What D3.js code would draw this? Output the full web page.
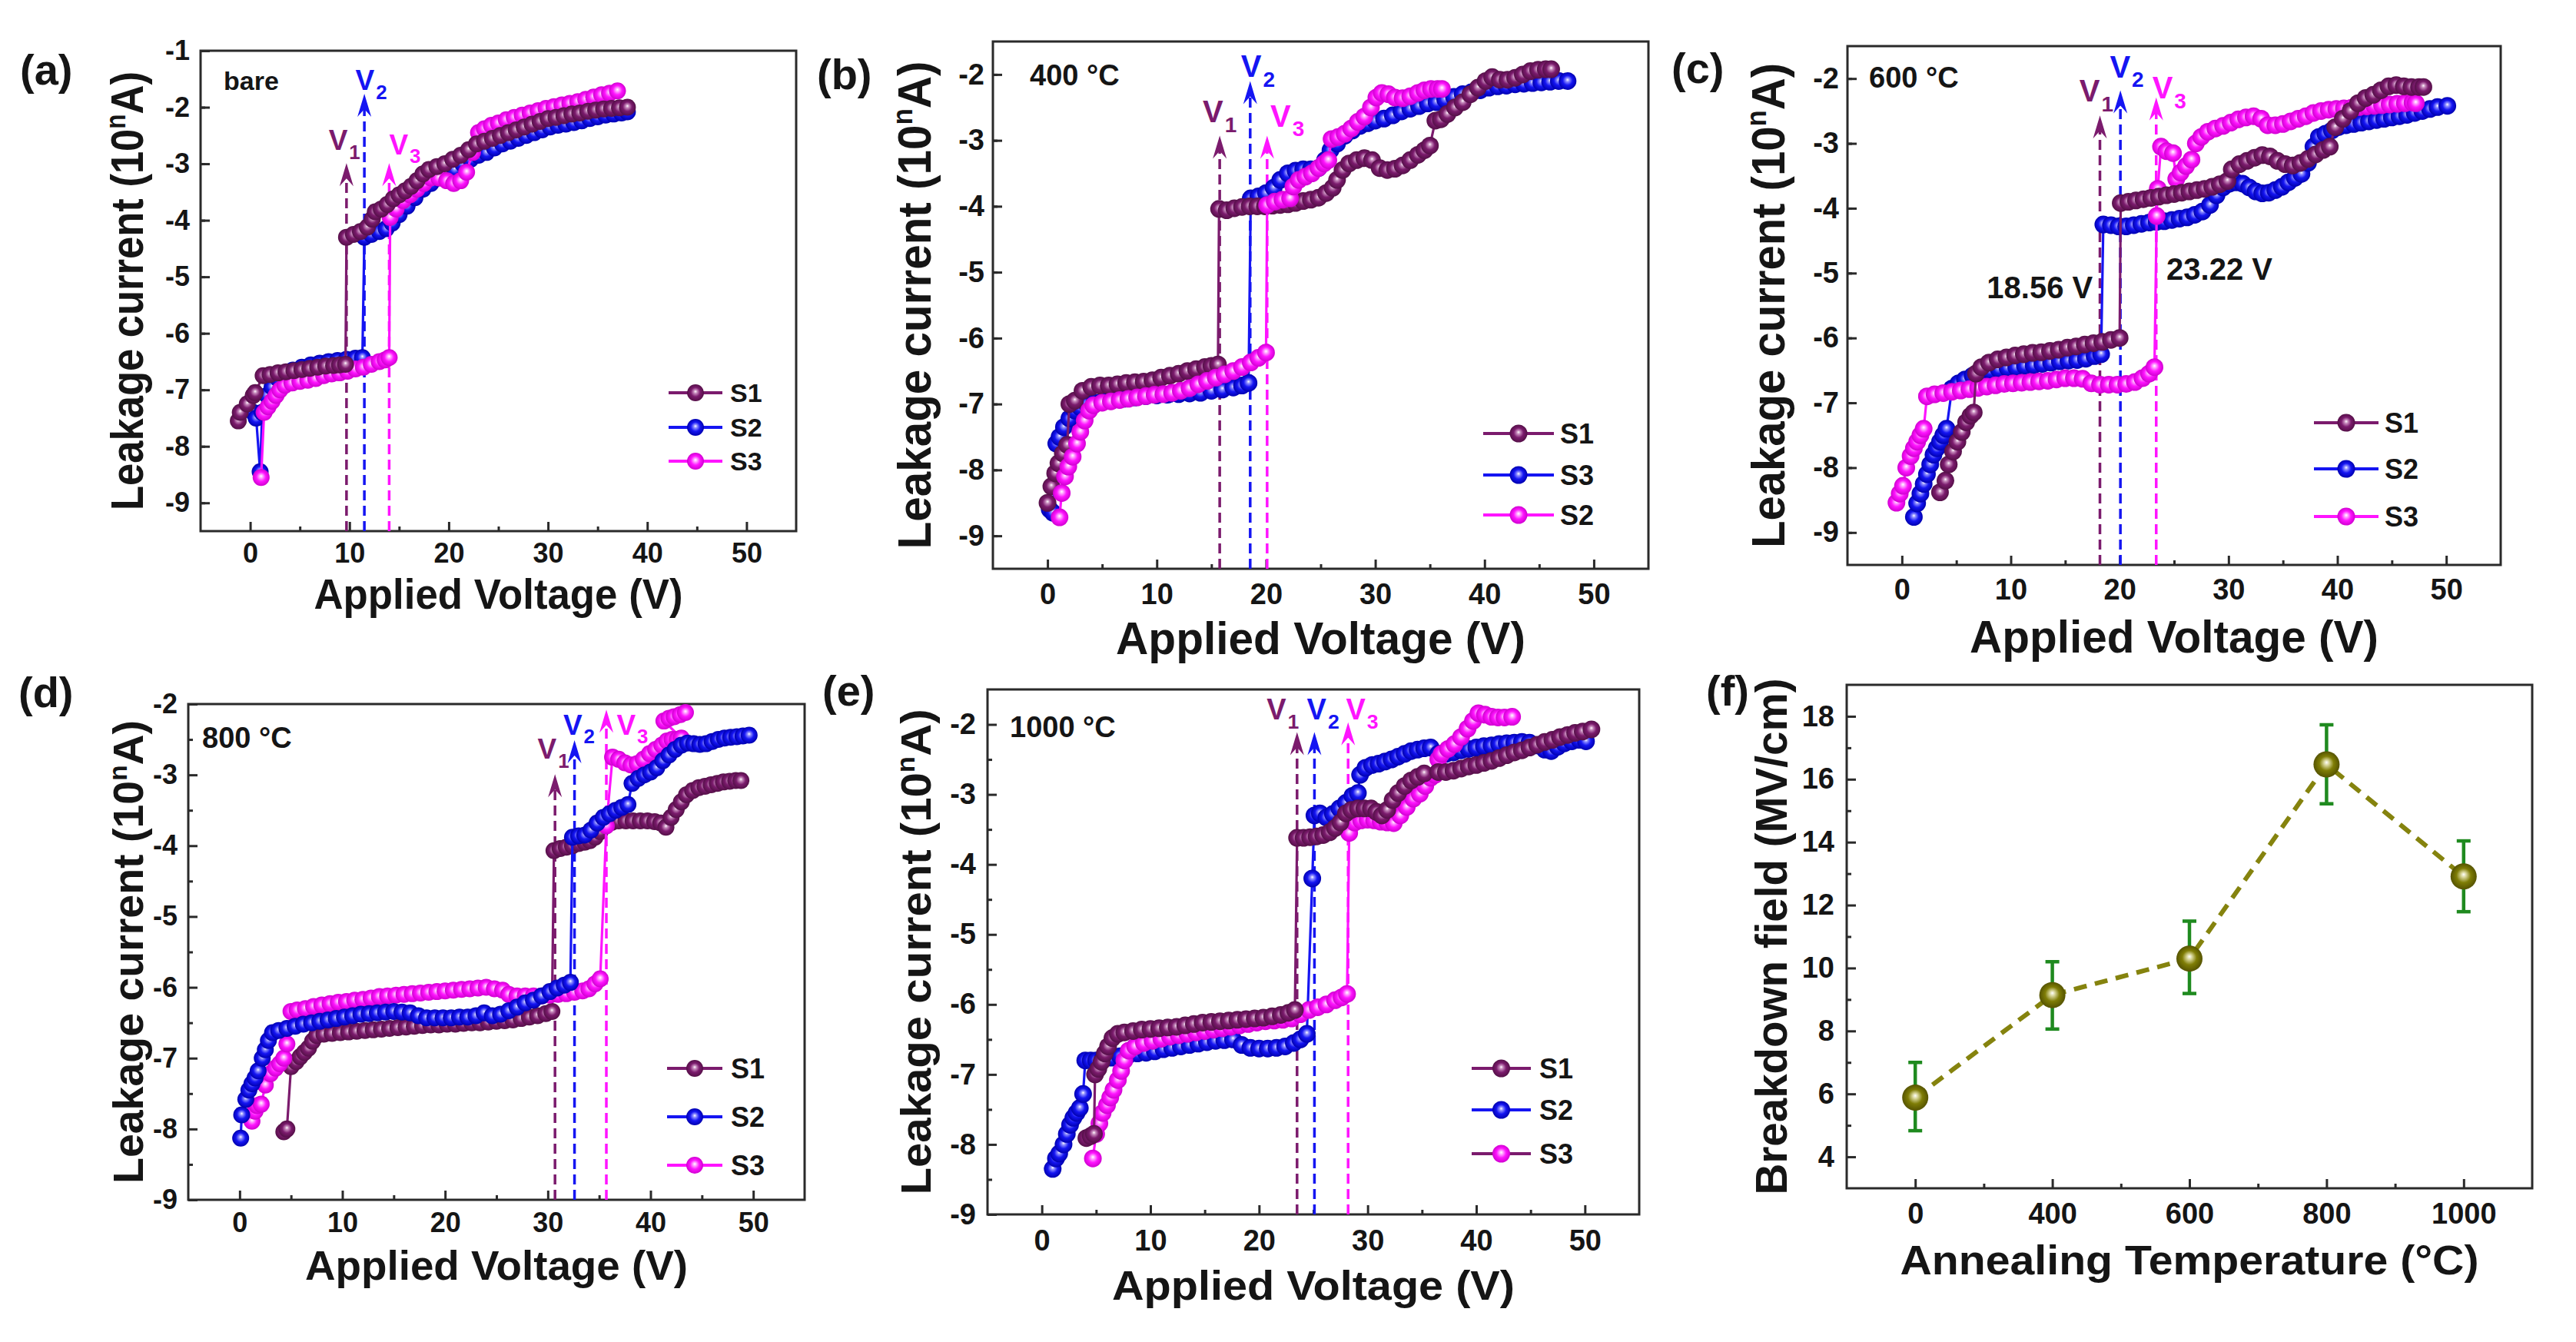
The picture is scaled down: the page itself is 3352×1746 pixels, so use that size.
<!DOCTYPE html>
<html><head><meta charset="utf-8">
<script src="https://cdn.jsdelivr.net/npm/d3@7"></script>
<style>
html,body{margin:0;padding:0;background:#fff;}
svg{display:block;}
text{font-family:"Liberation Sans",Arial,sans-serif;font-weight:bold;}
</style>
</head><body>
<svg id="chart" width="3352" height="1746"></svg>
<script>
// ---------------- DATA ----------------
// (a) bare
const a_S1=[[-1.2,-7.55],[-1.0,-7.4],[-0.3,-7.25],[0.3,-7.1],[0.5,-7.05],[1.3,-6.75],[2,-6.73],[2.8,-6.7],[3.6,-6.68],[4.4,-6.66],[5.2,-6.64],[6,-6.62],[6.8,-6.6],[7.6,-6.58],[8.4,-6.57],[9.0,-6.56],[9.6,-6.55],
[9.7,-4.3],[10.4,-4.25],[11.1,-4.2],[11.8,-4.12],[12.3,-3.98],[12.6,-3.85],[13.2,-3.8],[13.8,-3.72],[14.4,-3.62],[15,-3.55],[15.6,-3.48],[16.2,-3.4],[16.8,-3.3],[17.4,-3.18],[18,-3.1],[18.8,-3.05],[19.6,-3.0],[20.4,-2.92],[21.2,-2.85],[22,-2.75],[22.8,-2.65],[23.6,-2.6],[24.4,-2.55],[25.2,-2.5],[26,-2.45],[26.8,-2.4],[27.6,-2.35],[28.4,-2.3],[29.2,-2.25],[30,-2.2],[30.8,-2.18],[31.6,-2.15],[32.4,-2.12],[33.2,-2.1],[34,-2.07],[34.8,-2.05],[35.6,-2.03],[36.4,-2.02],[37.2,-2.01],[38,-2.0]];
const a_S2=[[0.3,-7.4],[0.6,-7.5],[1.0,-8.45],[1.2,-7.4],[1.7,-7.1],[2.2,-6.95],[2.8,-6.8],[3.5,-6.7],[4.3,-6.65],[5.2,-6.6],[6.1,-6.56],[7,-6.53],[7.9,-6.5],[8.8,-6.48],[9.7,-6.46],[10.6,-6.44],[11.3,-6.43],
[11.5,-4.3],[12.2,-4.25],[13,-4.2],[13.7,-4.15],[14.3,-4.05],[15,-3.9],[15.8,-3.75],[16.6,-3.6],[17.4,-3.45],[18.2,-3.35],[19,-3.25],[19.8,-3.15],[20.6,-3.1],[21.4,-3.0],[22.2,-2.92],[23,-2.85],[23.8,-2.8],[24.6,-2.72],[25.4,-2.65],[26.2,-2.6],[27,-2.55],[27.8,-2.5],[28.6,-2.45],[29.4,-2.4],[30.2,-2.35],[31,-2.32],[31.8,-2.3],[32.6,-2.27],[33.4,-2.24],[34.2,-2.2],[35,-2.17],[35.8,-2.14],[36.6,-2.12],[37.4,-2.1],[38,-2.08]];
const a_S3=[[1.1,-8.55],[1.4,-7.4],[1.8,-7.3],[2.2,-7.2],[2.6,-7.1],[3,-7.0],[3.5,-6.92],[4.2,-6.88],[5,-6.85],[5.8,-6.83],[6.6,-6.8],[7.4,-6.75],[8.2,-6.72],[9,-6.7],[9.8,-6.67],[10.6,-6.63],[11.4,-6.6],[12.2,-6.55],[13,-6.5],[13.6,-6.47],[14,-6.43],
[14.1,-3.95],[14.7,-3.8],[15.4,-3.65],[16.1,-3.55],[16.8,-3.45],[17.5,-3.35],[18.2,-3.25],[19,-3.25],[19.8,-3.3],[20.5,-3.35],[21.2,-3.3],[21.8,-3.15],[22.4,-2.8],[23,-2.45],[23.6,-2.38],[24.3,-2.32],[25,-2.28],[25.8,-2.22],[26.6,-2.18],[27.4,-2.14],[28.2,-2.1],[29,-2.06],[29.8,-2.02],[30.6,-1.99],[31.4,-1.96],[32.2,-1.93],[33,-1.9],[33.8,-1.86],[34.6,-1.82],[35.4,-1.78],[36.2,-1.75],[37,-1.71]];
// (b) 400 C
const b_S1=[[0,-8.5],[0.35,-8.25],[0.7,-8.05],[1.0,-7.9],[1.4,-7.75],[1.8,-7.62],[2.0,-7.0],[2.5,-6.95],[3.2,-6.8],[4.0,-6.74],[4.8,-6.72],[5.6,-6.72],[6.4,-6.7],[7.2,-6.68],[8,-6.67],[8.8,-6.66],[9.6,-6.64],[10.4,-6.6],[11.2,-6.57],[12,-6.54],[12.8,-6.5],[13.6,-6.47],[14.4,-6.44],[15,-6.42],[15.6,-6.4],
[15.7,-4.04],[16.4,-4.06],[17.1,-4.03],[17.8,-4.01],[18.5,-4.0],[19.2,-4.0],[19.9,-4.0],[20.6,-3.99],[21.3,-3.98],[22,-3.97],[22.7,-3.95],[23.4,-3.92],[24.1,-3.9],[24.8,-3.87],[25.5,-3.8],[26.1,-3.72],[26.5,-3.6],[27,-3.45],[27.6,-3.35],[28.3,-3.3],[29,-3.27],[29.7,-3.3],[30.4,-3.42],[31.1,-3.45],[31.8,-3.43],[32.5,-3.38],[33.2,-3.3],[33.9,-3.22],[34.5,-3.15],[35,-3.08],
[35.5,-2.7],[36,-2.68],[36.6,-2.6],[37.3,-2.5],[38,-2.42],[38.7,-2.3],[39.4,-2.2],[40.1,-2.1],[40.7,-2.04],[41.4,-2.08],[42.1,-2.08],[42.8,-2.05],[43.5,-2.0],[44.2,-1.95],[44.9,-1.93],[45.6,-1.92],[46.1,-1.92]];
const b_S3=[[0.2,-8.6],[0.5,-8.65],[0.8,-7.6],[1.1,-7.5],[1.5,-7.35],[2,-7.22],[2.5,-7.1],[3,-7.05],[3.6,-7.0],[4.3,-6.98],[5,-6.96],[6,-6.94],[7,-6.92],[8,-6.9],[9,-6.88],[10,-6.87],[11,-6.86],[12,-6.85],[13,-6.84],[14,-6.83],[15,-6.8],[16,-6.78],[17,-6.75],[17.8,-6.72],[18.4,-6.68],
[18.6,-3.88],[19.3,-3.85],[20,-3.8],[20.7,-3.72],[21.3,-3.6],[22,-3.5],[22.7,-3.46],[23.4,-3.44],[24.1,-3.44],[24.8,-3.42],[25.4,-3.3],[25.9,-3.15],[26.5,-3.05],[27.2,-2.93],[27.9,-2.85],[28.6,-2.78],[29.3,-2.74],[30,-2.7],[30.8,-2.67],[31.6,-2.62],[32.4,-2.56],[33.2,-2.52],[34,-2.48],[34.8,-2.44],[35.6,-2.42],[36.4,-2.38],[37.2,-2.34],[38,-2.3],[38.8,-2.27],[39.6,-2.24],[40.4,-2.2],[41.2,-2.18],[42,-2.17],[42.8,-2.15],[43.6,-2.14],[44.4,-2.13],[45.2,-2.12],[46,-2.11],[46.8,-2.1],[47.6,-2.1]];
const b_S2=[[1.1,-8.72],[1.3,-8.35],[1.6,-8.1],[1.9,-7.95],[2.3,-7.8],[2.7,-7.6],[3.0,-7.42],[3.4,-7.25],[3.8,-7.1],[4.2,-7.02],[5,-6.98],[5.8,-6.96],[6.6,-6.94],[7.4,-6.92],[8.2,-6.9],[9,-6.88],[9.8,-6.86],[10.6,-6.85],[11.4,-6.83],[12.2,-6.8],[13,-6.76],[13.8,-6.7],[14.6,-6.65],[15.4,-6.6],[16.2,-6.55],[17,-6.5],[17.8,-6.44],[18.6,-6.37],[19.3,-6.3],[20,-6.22],
[20.1,-3.98],[20.8,-3.93],[21.5,-3.9],[22.2,-3.88],[22.5,-3.7],[23,-3.6],[23.6,-3.55],[24.2,-3.5],[24.8,-3.42],[25.3,-3.35],[25.7,-3.3],[26.0,-2.98],[26.6,-2.95],[27.2,-2.9],[27.8,-2.82],[28.4,-2.72],[29,-2.64],[29.6,-2.5],[30.1,-2.35],[30.6,-2.28],[31.2,-2.3],[31.8,-2.35],[32.5,-2.36],[33.2,-2.33],[33.9,-2.28],[34.5,-2.24],[35.1,-2.22],[35.7,-2.22],[36.1,-2.22]];
// (c) 600 C
const c_S1=[[3.5,-8.38],[4.0,-8.2],[4.3,-7.95],[4.7,-7.75],[5.1,-7.6],[5.5,-7.45],[5.9,-7.3],[6.3,-7.2],[6.6,-7.15],[6.8,-6.55],[7.3,-6.45],[8,-6.38],[8.8,-6.33],[9.6,-6.3],[10.4,-6.27],[11.2,-6.25],[12,-6.23],[12.8,-6.22],[13.6,-6.2],[14.4,-6.18],[15.2,-6.15],[16,-6.13],[16.8,-6.1],[17.6,-6.08],[18.4,-6.06],[19.2,-6.03],[20,-6.0],
[20.1,-3.92],[20.8,-3.9],[21.5,-3.88],[22.2,-3.86],[22.9,-3.84],[23.6,-3.82],[24.3,-3.8],[25,-3.78],[25.7,-3.76],[26.4,-3.74],[27.1,-3.72],[27.8,-3.7],[28.5,-3.67],[29.2,-3.63],[29.9,-3.58],[30.3,-3.4],[31,-3.32],[31.7,-3.27],[32.4,-3.22],[33.1,-3.18],[33.8,-3.2],[34.5,-3.27],[35.2,-3.32],[35.9,-3.34],[36.6,-3.3],[37.3,-3.24],[38,-3.17],[38.7,-3.1],[39.3,-3.05],[39.8,-2.75],[40.5,-2.62],[41.2,-2.5],[41.9,-2.38],[42.6,-2.3],[43.3,-2.25],[44,-2.18],[44.7,-2.12],[45.4,-2.1],[46.1,-2.12],[46.8,-2.13],[47.5,-2.13],[47.9,-2.13]];
const c_S2=[[1.1,-8.76],[1.4,-8.55],[1.7,-8.4],[2.0,-8.25],[2.3,-8.1],[2.6,-7.95],[2.9,-7.8],[3.2,-7.7],[3.5,-7.6],[3.8,-7.5],[4.1,-7.4],[4.6,-6.78],[5.2,-6.7],[5.8,-6.64],[6.5,-6.58],[7.3,-6.53],[8.1,-6.5],[8.9,-6.48],[9.7,-6.46],[10.5,-6.45],[11.3,-6.43],[12.1,-6.42],[12.9,-6.4],[13.7,-6.38],[14.5,-6.36],[15.3,-6.35],[16.1,-6.34],[16.9,-6.32],[17.7,-6.28],[18.3,-6.25],
[18.5,-4.25],[19.2,-4.26],[19.9,-4.28],[20.6,-4.28],[21.3,-4.26],[22,-4.24],[22.7,-4.22],[23.4,-4.21],[24.1,-4.2],[24.8,-4.18],[25.5,-4.16],[26.2,-4.14],[26.9,-4.1],[27.6,-4.05],[28.3,-3.95],[28.9,-3.8],[29.5,-3.68],[30.1,-3.62],[30.7,-3.6],[31.3,-3.62],[31.9,-3.68],[32.5,-3.74],[33.1,-3.77],[33.7,-3.76],[34.3,-3.72],[34.9,-3.67],[35.5,-3.6],[36.1,-3.53],[36.7,-3.47],[37.3,-3.3],[37.8,-3.05],[38.3,-2.9],[38.9,-2.85],[39.5,-2.8],[40.1,-2.75],[40.8,-2.72],[41.5,-2.7],[42.2,-2.68],[42.9,-2.66],[43.6,-2.64],[44.3,-2.62],[45,-2.6],[45.7,-2.58],[46.4,-2.56],[47.1,-2.53],[47.8,-2.5],[48.5,-2.47],[49.2,-2.44],[50.1,-2.42]];
const c_S3=[[-0.5,-8.54],[-0.2,-8.4],[0.1,-8.28],[0.4,-8.0],[0.8,-7.82],[1.1,-7.7],[1.4,-7.6],[1.7,-7.5],[2.0,-7.4],[2.3,-6.9],[3,-6.87],[3.8,-6.85],[4.6,-6.83],[5.4,-6.81],[6.2,-6.79],[7,-6.77],[7.8,-6.75],[8.6,-6.73],[9.4,-6.71],[10.2,-6.7],[11,-6.69],[11.8,-6.68],[12.6,-6.67],[13.4,-6.66],[14.2,-6.64],[15,-6.62],[15.8,-6.62],[16.6,-6.63],[17.4,-6.7],[18.2,-6.72],[19,-6.72],[19.8,-6.72],[20.6,-6.71],[21.4,-6.68],[22.1,-6.62],[22.7,-6.55],[23.2,-6.45],
[23.4,-4.12],[23.5,-3.7],[23.8,-3.05],[24.3,-3.12],[24.9,-3.15],[25.2,-3.55],[25.6,-3.45],[26.1,-3.35],[26.6,-3.25],[27,-3.0],[27.5,-2.9],[28.1,-2.82],[28.8,-2.77],[29.5,-2.73],[30.2,-2.68],[30.9,-2.63],[31.6,-2.6],[32.3,-2.58],[33,-2.62],[33.6,-2.72],[34.3,-2.72],[35,-2.7],[35.7,-2.66],[36.4,-2.62],[37.1,-2.58],[37.8,-2.53],[38.5,-2.5],[39.2,-2.48],[39.9,-2.47],[40.6,-2.46],[41.3,-2.45],[42,-2.44],[42.7,-2.43],[43.4,-2.42],[44.1,-2.41],[44.8,-2.4],[45.5,-2.39],[46.2,-2.38],[46.9,-2.37],[47.2,-2.38]];
// (d) 800 C
const d_S1=[[4.3,-8.04],[4.6,-8.0],[5.0,-7.12],[5.5,-7.05],[5.9,-6.98],[6.3,-6.92],[6.7,-6.86],[7.1,-6.76],[7.5,-6.68],[8.2,-6.66],[9,-6.65],[9.8,-6.64],[10.6,-6.63],[11.4,-6.62],[12.2,-6.61],[13,-6.6],[13.8,-6.59],[14.6,-6.58],[15.4,-6.57],[16.2,-6.56],[17,-6.55],[17.8,-6.54],[18.6,-6.53],[19.4,-6.53],[20.2,-6.52],[21,-6.52],[21.8,-6.51],[22.6,-6.5],[23.4,-6.5],[24.2,-6.49],[25,-6.48],[25.8,-6.47],[26.6,-6.46],[27.4,-6.44],[28.2,-6.42],[29,-6.4],[29.8,-6.37],[30.4,-6.34],
[30.6,-4.07],[31.2,-4.04],[31.8,-4.02],[32.4,-4.0],[33,-3.97],[33.6,-3.95],[34.1,-3.93],[34.6,-3.88],[35.1,-3.8],[35.6,-3.71],[36.2,-3.67],[36.9,-3.65],[37.6,-3.65],[38.3,-3.65],[39,-3.65],[39.7,-3.65],[40.4,-3.66],[41,-3.68],[41.5,-3.74],[42,-3.6],[42.5,-3.49],[43,-3.38],[43.5,-3.28],[44.1,-3.22],[44.7,-3.18],[45.3,-3.16],[45.9,-3.14],[46.5,-3.12],[47.1,-3.1],[47.7,-3.09],[48.3,-3.08],[48.8,-3.08]];
const d_S2=[[0.1,-8.13],[0.2,-7.8],[0.6,-7.58],[0.9,-7.45],[1.2,-7.36],[1.5,-7.28],[1.8,-7.18],[2.2,-7.0],[2.5,-6.88],[2.8,-6.75],[3.2,-6.64],[3.8,-6.61],[4.6,-6.58],[5.4,-6.55],[6.2,-6.52],[7,-6.5],[7.8,-6.48],[8.6,-6.46],[9.4,-6.44],[10.2,-6.42],[11,-6.4],[11.8,-6.38],[12.6,-6.37],[13.4,-6.36],[14.2,-6.35],[15,-6.34],[15.8,-6.35],[16.6,-6.36],[17.4,-6.4],[18.2,-6.43],[19,-6.43],[19.8,-6.43],[20.6,-6.43],[21.4,-6.42],[22.2,-6.42],[23,-6.4],[23.8,-6.36],[24.6,-6.4],[25.4,-6.38],[26.2,-6.33],[27,-6.28],[27.8,-6.22],[28.6,-6.18],[29.4,-6.12],[30.2,-6.06],[30.9,-6.01],[31.6,-5.97],[32.2,-5.93],
[32.4,-3.88],[33,-3.86],[33.6,-3.85],[34.2,-3.78],[34.8,-3.68],[35.4,-3.6],[36,-3.55],[36.6,-3.5],[37.2,-3.46],[37.8,-3.42],[38.2,-3.12],[38.8,-3.05],[39.4,-3.0],[40,-2.96],[40.6,-2.9],[41.2,-2.8],[41.8,-2.72],[42.4,-2.64],[43,-2.58],[43.6,-2.55],[44.2,-2.56],[44.8,-2.57],[45.4,-2.56],[46,-2.53],[46.6,-2.5],[47.2,-2.48],[47.8,-2.47],[48.4,-2.46],[49,-2.45],[49.6,-2.44]];
const d_S3=[[1.2,-7.89],[1.5,-7.75],[1.7,-7.67],[2.1,-7.65],[2.5,-7.38],[3.0,-7.22],[3.5,-7.14],[3.9,-7.08],[4.3,-7.0],[4.6,-6.8],[5.0,-6.34],[5.6,-6.32],[6.4,-6.3],[7.2,-6.27],[8,-6.25],[8.8,-6.23],[9.6,-6.21],[10.4,-6.2],[11.2,-6.18],[12,-6.17],[12.8,-6.15],[13.6,-6.13],[14.4,-6.12],[15.2,-6.11],[16,-6.1],[16.8,-6.09],[17.6,-6.08],[18.4,-6.07],[19.2,-6.06],[20,-6.05],[20.8,-6.04],[21.6,-6.03],[22.4,-6.02],[23.2,-6.01],[24,-6.0],[24.8,-6.02],[25.6,-6.04],[26.2,-6.1],[27,-6.12],[27.8,-6.12],[28.6,-6.12],[29.4,-6.12],[30.2,-6.11],[31,-6.1],[31.8,-6.09],[32.6,-6.07],[33.4,-6.05],[34,-6.02],[34.6,-5.95],[35.1,-5.88],
[35.7,-3.72],[36.3,-2.75],[36.9,-2.78],[37.5,-2.83],[38.1,-2.86],[38.7,-2.84],[39.3,-2.78],[39.9,-2.7],[40.5,-2.64],[41.1,-2.58],[41.6,-2.52],[42.1,-2.5],[42.6,-2.5],[43,-2.48],
[41.3,-2.24],[41.8,-2.2],[42.3,-2.18],[42.9,-2.15],[43.4,-2.12]];
// (e) 1000 C
const e_S1=[[4.1,-7.91],[4.5,-7.88],[4.8,-7.85],[4.9,-7.0],[5.2,-6.92],[5.5,-6.82],[5.8,-6.7],[6.1,-6.6],[6.5,-6.48],[7,-6.42],[7.6,-6.4],[8.4,-6.38],[9.2,-6.36],[10,-6.35],[10.8,-6.34],[11.6,-6.33],[12.4,-6.32],[13.2,-6.3],[14,-6.28],[14.8,-6.26],[15.6,-6.25],[16.4,-6.24],[17.2,-6.23],[18,-6.22],[18.8,-6.21],[19.6,-6.2],[20.4,-6.19],[21.2,-6.17],[22,-6.15],[22.7,-6.12],[23.3,-6.08],
[23.5,-3.62],[24.1,-3.62],[24.7,-3.61],[25.3,-3.6],[25.9,-3.58],[26.5,-3.54],[27,-3.48],[27.5,-3.4],[28,-3.27],[28.5,-3.22],[29.1,-3.2],[29.7,-3.2],[30.3,-3.2],[30.8,-3.25],[31.3,-3.3],[31.8,-3.22],[32.3,-3.08],[32.8,-2.98],[33.4,-2.88],[34,-2.8],[34.6,-2.75],[35.2,-2.7],[36.5,-2.68],[37.2,-2.68],[37.9,-2.66],[38.6,-2.63],[39.3,-2.6],[40,-2.58],[40.7,-2.55],[41.4,-2.52],[42.1,-2.48],[42.8,-2.44],[43.5,-2.4],[44.2,-2.37],[44.9,-2.33],[45.6,-2.29],[46.3,-2.25],[47,-2.22],[47.7,-2.18],[48.4,-2.15],[49.1,-2.12],[49.8,-2.1],[50.6,-2.07]];
const e_S2=[[1.0,-8.35],[1.3,-8.2],[1.6,-8.13],[2.0,-8.0],[2.3,-7.85],[2.6,-7.72],[2.9,-7.62],[3.2,-7.55],[3.5,-7.48],[3.8,-7.28],[4.0,-6.8],[4.5,-6.8],[5,-6.8],[5.6,-6.78],[6.4,-6.76],[7.2,-6.74],[8,-6.72],[8.8,-6.7],[9.6,-6.69],[10.4,-6.67],[11.2,-6.64],[12,-6.62],[12.8,-6.6],[13.6,-6.58],[14.4,-6.56],[15.2,-6.54],[16,-6.52],[16.8,-6.51],[17.6,-6.5],[18.4,-6.58],[19.2,-6.62],[20,-6.63],[20.8,-6.63],[21.6,-6.62],[22.4,-6.6],[23.2,-6.55],[23.8,-6.5],[24.4,-6.42],
[24.9,-4.2],[25.1,-3.3],[25.6,-3.27],[26.2,-3.33],[26.8,-3.28],[27.4,-3.2],[28,-3.12],[28.6,-3.02],[29.1,-2.98],[29.3,-2.72],[29.8,-2.62],[30.4,-2.58],[31,-2.56],[31.6,-2.53],[32.2,-2.5],[32.8,-2.46],[33.4,-2.42],[34,-2.38],[34.6,-2.36],[35.2,-2.34],[35.8,-2.33],[36.5,-2.42],[37.2,-2.42],[37.9,-2.4],[38.6,-2.37],[39.3,-2.35],[40,-2.33],[40.7,-2.31],[41.4,-2.3],[42.1,-2.28],[42.8,-2.27],[43.5,-2.26],[44.2,-2.25],[44.9,-2.26],[45.6,-2.3],[46.3,-2.36],[46.9,-2.38],[47.5,-2.32],[48.1,-2.27],[48.8,-2.24],[49.5,-2.22],[50.1,-2.24]];
const e_S3=[[4.7,-8.2],[5.0,-7.85],[5.3,-7.7],[5.6,-7.55],[6,-7.44],[6.3,-7.33],[6.6,-7.22],[7,-7.08],[7.3,-6.95],[7.6,-6.8],[8,-6.66],[8.6,-6.6],[9.4,-6.55],[10.2,-6.52],[11,-6.49],[11.8,-6.46],[12.6,-6.44],[13.4,-6.42],[14.2,-6.4],[15,-6.38],[15.8,-6.36],[16.6,-6.34],[17.4,-6.32],[18.2,-6.3],[19,-6.28],[19.8,-6.26],[20.6,-6.24],[21.4,-6.23],[22.2,-6.22],[23,-6.2],[23.8,-6.14],[24.6,-6.08],[25.4,-6.04],[26.2,-6.0],[27,-5.94],[27.6,-5.9],[28.1,-5.85],
[28.3,-3.55],[28.8,-3.4],[29.4,-3.37],[30,-3.36],[30.6,-3.37],[31.2,-3.39],[31.8,-3.4],[32.4,-3.41],[33,-3.3],[33.6,-3.18],[34.2,-3.06],[34.8,-2.99],[35.3,-2.88],[35.8,-2.76],[36.2,-2.72],[36.5,-2.5],[36.8,-2.42],[37.4,-2.35],[38,-2.28],[38.6,-2.18],[39.2,-2.06],[39.7,-1.95],[40.2,-1.84],[40.8,-1.86],[41.4,-1.89],[42,-1.9],[42.6,-1.9],[43.3,-1.89]];
// (f) breakdown field
const f_temps=["0","400","600","800","1000"];
const f_field=[5.88,9.14,10.3,16.47,12.91];
const f_errLow=[4.83,8.06,9.19,15.22,11.79];
const f_errHigh=[7.0,10.2,11.49,17.73,14.04];
// tick labels
const voltTicks=[0,10,20,30,40,50];
const leakTicksA=[-9,-8,-7,-6,-5,-4,-3,-2,-1];
const leakTicks=[-9,-8,-7,-6,-5,-4,-3,-2];
const fieldTicks=[4,6,8,10,12,14,16,18];
// breakdown voltage markers
const vA=[9.7,11.5,14.0], vB=[15.76,18.55,20.1], vC=[18.19,20.07,23.36], vD=[30.7,32.6,35.7], vE=[23.5,25.1,28.2];

// ---------------- STYLE / LAYOUT ----------------
const W=3352,H=1746;
const svg=d3.select('#chart');
svg.append('rect').attr('width',W).attr('height',H).attr('fill','#fff');
const defs=svg.append('defs');
const palette={
  purple:{base:'#7b1b6d',light:'#c88cbe',dark:'#550f48'},
  blue:{base:'#1515f2',light:'#9090ff',dark:'#0000b0'},
  magenta:{base:'#ff14ff',light:'#ffa8ff',dark:'#d000d0'},
  olive:{base:'#7f7d06',light:'#d8d69a',dark:'#555300'}
};
Object.entries(palette).forEach(([k,c])=>{
  const g=defs.append('radialGradient').attr('id','ball-'+k)
    .attr('cx','50%').attr('cy','50%').attr('r','50%').attr('fx','50%').attr('fy','42%');
  g.append('stop').attr('offset','0%').attr('stop-color','#ffffff');
  g.append('stop').attr('offset','20%').attr('stop-color',c.light);
  g.append('stop').attr('offset','55%').attr('stop-color',c.base);
  g.append('stop').attr('offset','100%').attr('stop-color',c.dark);
});

const panels=[
 {id:'(a)', lab:[26,110], note:['bare',291,117,34], frame:[261,66,1036,691], yd:[-9.5,-1], yt:leakTicksA,
  fs:36, xPad:41, yGap:14, r:11, xT:[792,56,480], yT:[186,60,571],
  series:[{d:a_S2,c:'blue'},{d:a_S3,c:'magenta'},{d:a_S1,c:'purple'}],
  legend:{x1:870,x2:940,tx:950,fs:34,rows:[[511,'S1','purple','purple'],[556,'S2','blue','blue'],[600,'S3','magenta','magenta']]},
  vs:vA, arrows:[{tip:-2.99,lx:7.9,ly:-2.76},{tip:-1.76,lx:10.6,ly:-1.69},{tip:-2.99,lx:14.0,ly:-2.83}], vfs:37},
 {id:'(b)', lab:[1063,116], note:['400 °C',1340,111,38], frame:[1292,54,2145,740], yd:[-9.5,-1.5], yt:leakTicks,
  fs:38, xPad:46, yGap:11, r:11.5, xT:[851,59,533], yT:[1211,62,635],
  series:[{d:b_S3,c:'blue'},{d:b_S1,c:'purple'},{d:b_S2,c:'magenta'}],
  legend:{x1:1930,x2:2022,tx:2030,fs:36,rows:[[564,'S1','purple','purple'],[618,'S3','blue','blue'],[670,'S2','magenta','magenta']]},
  vs:vB, arrows:[{tip:-2.93,lx:14.2,ly:-2.73},{tip:-2.1,lx:17.7,ly:-2.04},{tip:-2.93,lx:20.4,ly:-2.79}], vfs:40},
 {id:'(c)', lab:[2175,108], note:['600 °C',2432,114,38], frame:[2404,60,3254,735], yd:[-9.5,-1.5], yt:leakTicks,
  fs:38, xPad:45, yGap:11, r:11.5, xT:[849,59,532], yT:[2322,62,631],
  series:[{d:c_S2,c:'blue'},{d:c_S3,c:'magenta'},{d:c_S1,c:'purple'}],
  legend:{x1:3011,x2:3095,tx:3103,fs:36,rows:[[550,'S1','purple','purple'],[610,'S2','blue','blue'],[672,'S3','magenta','magenta']]},
  vs:vC, arrows:[{tip:-2.57,lx:16.3,ly:-2.35},{tip:-2.18,lx:19.1,ly:-1.98},{tip:-2.29,lx:23.0,ly:-2.31}], vfs:40,
  extra:[['18.56 V',7.8,-5.39],['23.22 V',24.3,-5.1]]},
 {id:'(d)', lab:[24,920], note:['800 °C',263,973,38], frame:[245,916,1047,1561], yd:[-9,-2], yt:leakTicks,
  fs:36, xPad:42, yGap:14, r:11, xT:[1665,53,498], yT:[186,56,603],
  series:[{d:d_S1,c:'purple'},{d:d_S3,c:'magenta'},{d:d_S2,c:'blue'}],
  legend:{x1:868,x2:940,tx:951,fs:36,rows:[[1390,'S1','purple','purple'],[1453,'S2','blue','blue'],[1516,'S3','magenta','magenta']]},
  vs:vD, arrows:[{tip:-2.99,lx:29.0,ly:-2.77},{tip:-2.51,lx:31.5,ly:-2.43},{tip:-2.08,lx:36.7,ly:-2.43}], vfs:37},
 {id:'(e)', lab:[1070,918], note:['1000 °C',1314,959,38], frame:[1285,897,2133,1580], yd:[-9,-1.5], yt:leakTicks,
  fs:38, xPad:47, yGap:15, r:11.5, xT:[1691,54,524], yT:[1211,56,632],
  series:[{d:e_S2,c:'blue'},{d:e_S3,c:'magenta'},{d:e_S1,c:'purple'}],
  legend:{x1:1915,x2:1992,tx:2003,fs:36,rows:[[1390,'S1','purple','purple'],[1444,'S2','blue','blue'],[1501,'S3','purple','magenta']]},
  vs:vE, arrows:[{tip:-2.11,lx:20.7,ly:-1.93},{tip:-2.11,lx:24.4,ly:-1.93},{tip:-1.97,lx:28.0,ly:-1.93}], vfs:38}
];
const vColors=['purple','blue','magenta'];
const ink='#151515';

function styleAxis(g,fs){
  g.attr('font-family',null).attr('font-size',fs);
  g.select('.domain').remove();
  g.selectAll('line').attr('stroke','#2a2a2a').attr('stroke-width',3);
  g.selectAll('text').attr('fill',ink);
}

function drawFrameAxes(P,x,y,xVals,xMinor,xFmt,yVals,yMinor){
  const [L,T,R,B]=P.frame;
  const g=svg.append('g');
  const gx=g.append('g').attr('transform',`translate(0,${B})`)
    .call(d3.axisBottom(x).tickValues(xVals).tickSize(-12).tickPadding(P.xPad-0.71*P.fs).tickFormat(xFmt));
  styleAxis(gx,P.fs);
  const gxm=g.append('g').attr('transform',`translate(0,${B})`)
    .call(d3.axisBottom(x).tickValues(xMinor).tickSize(-6).tickFormat(''));
  styleAxis(gxm,P.fs);
  const gy=g.append('g').attr('transform',`translate(${L},0)`)
    .call(d3.axisLeft(y).tickValues(yVals).tickSize(-12).tickPadding(P.yGap).tickFormat(d=>String(d)));
  styleAxis(gy,P.fs);
  const gym=g.append('g').attr('transform',`translate(${L},0)`)
    .call(d3.axisLeft(y).tickValues(yMinor).tickSize(-6).tickFormat(''));
  styleAxis(gym,P.fs);
  g.append('rect').attr('x',L).attr('y',T).attr('width',R-L).attr('height',B-T)
    .attr('fill','none').attr('stroke','#2a2a2a').attr('stroke-width',3);
}

function ball(sel,cx,cy,r,color){
  sel.append('circle').attr('cx',cx).attr('cy',cy).attr('r',r).attr('fill',`url(#ball-${color})`);
}

panels.forEach(P=>{
  const [L,T,R,B]=P.frame;
  const x=d3.scaleLinear().domain([-5,55]).range([L,R]);
  const y=d3.scaleLinear().domain(P.yd).range([B,T]);
  const yMinor=d3.range(Math.ceil(P.yd[0]*2)/2+0.5,P.yd[1],1).filter(v=>v>P.yd[0]&&v<P.yd[1]);
  drawFrameAxes(P,x,y,voltTicks,[5,15,25,35,45],d=>String(d),P.yt,yMinor);

  // breakdown arrows (dashed lines)
  const ga=svg.append('g');
  P.vs.forEach((v,i)=>{
    const A=P.arrows[i], col=palette[vColors[i]].base;
    const xv=x(v), yt=y(A.tip);
    ga.append('line').attr('x1',xv).attr('x2',xv).attr('y1',B).attr('y2',yt+18)
      .attr('stroke',col).attr('stroke-width',3.5).attr('stroke-dasharray','13,7');
  });

  // series
  const line=d3.line().x(d=>x(d[0])).y(d=>y(d[1]));
  P.series.forEach(S=>{
    const gs=svg.append('g');
    gs.append('path').attr('d',line(S.d)).attr('fill','none')
      .attr('stroke',palette[S.c].base).attr('stroke-width',3.2).attr('stroke-linejoin','round');
    gs.selectAll('circle').data(S.d).join('circle')
      .attr('cx',d=>x(d[0])).attr('cy',d=>y(d[1])).attr('r',P.r).attr('fill',`url(#ball-${S.c})`);
  });

  // arrowheads + V labels
  P.vs.forEach((v,i)=>{
    const A=P.arrows[i], col=palette[vColors[i]].base;
    const xv=x(v), yt=y(A.tip);
    svg.append('path').attr('d',`M${xv},${yt} L${xv+9},${yt+30} L${xv},${yt+20} L${xv-9},${yt+30} Z`)
      .attr('fill',col);
    const t=svg.append('text').attr('x',x(A.lx)).attr('y',y(A.ly)).attr('fill',col).attr('font-size',P.vfs).text('V');
    t.append('tspan').attr('font-size',P.vfs*0.7).attr('dx',2).attr('dy',P.vfs*0.32).text(String(i+1));
  });

  // legend
  const Lg=P.legend;
  Lg.rows.forEach(([ry,name,lc,mc])=>{
    svg.append('line').attr('x1',Lg.x1).attr('x2',Lg.x2).attr('y1',ry).attr('y2',ry)
      .attr('stroke',palette[lc].base).attr('stroke-width',4);
    ball(svg,(Lg.x1+Lg.x2)/2,ry,P.r,mc);
    svg.append('text').attr('x',Lg.tx).attr('y',ry).attr('dy','0.36em').attr('font-size',Lg.fs).attr('fill',ink).text(name);
  });

  // extra annotations
  (P.extra||[]).forEach(([txt,vx,vy])=>{
    svg.append('text').attr('x',x(vx)).attr('y',y(vy)).attr('font-size',40).attr('fill',ink).text(txt);
  });

  // note and panel label
  svg.append('text').attr('x',P.note[1]).attr('y',P.note[2]).attr('font-size',P.note[3]).attr('fill',ink).text(P.note[0]);
  svg.append('text').attr('x',P.lab[0]).attr('y',P.lab[1]).attr('font-size',56).attr('fill',ink).text(P.id);

  // titles
  svg.append('text').attr('x',(L+R)/2).attr('y',P.xT[0]).attr('text-anchor','middle')
    .attr('font-size',P.xT[1]).attr('textLength',P.xT[2]).attr('lengthAdjust','spacingAndGlyphs')
    .attr('fill',ink).text('Applied Voltage (V)');
  const yt=svg.append('text').attr('transform',`translate(${P.yT[0]},${(T+B)/2}) rotate(-90)`)
    .attr('text-anchor','middle').attr('font-size',P.yT[1]).attr('textLength',P.yT[2])
    .attr('lengthAdjust','spacingAndGlyphs').attr('fill',ink);
  yt.append('tspan').text('Leakage current (10');
  yt.append('tspan').attr('font-size',P.yT[1]*0.6).attr('dy',-P.yT[1]*0.38).text('n');
  yt.append('tspan').attr('dy',P.yT[1]*0.38).text('A)');
});

// ---------------- PANEL (f) ----------------
(function(){
  const P={frame:[2403,891,3295,1546], fs:38, xPad:46, yGap:16};
  const [L,T,R,B]=P.frame;
  const x=d3.scaleLinear().domain([-0.5,4.5]).range([L,R]);
  const y=d3.scaleLinear().domain([3,19]).range([B,T]);
  drawFrameAxes(P,x,y,d3.range(f_temps.length),[0.5,1.5,2.5,3.5],i=>f_temps[i],fieldTicks,[5,7,9,11,13,15,17]);
  const pts=f_field.map((v,i)=>[i,v]);
  svg.append('path').attr('d',d3.line().x(d=>x(d[0])).y(d=>y(d[1]))(pts))
    .attr('fill','none').attr('stroke','#85830e').attr('stroke-width',6).attr('stroke-dasharray','17,11');
  const ge=svg.append('g').attr('stroke','#1f8a1f').attr('stroke-width',4.5);
  f_field.forEach((v,i)=>{
    const cx=x(i);
    ge.append('line').attr('x1',cx).attr('x2',cx).attr('y1',y(f_errLow[i])).attr('y2',y(f_errHigh[i]));
    ge.append('line').attr('x1',cx-9).attr('x2',cx+9).attr('y1',y(f_errLow[i])).attr('y2',y(f_errLow[i]));
    ge.append('line').attr('x1',cx-9).attr('x2',cx+9).attr('y1',y(f_errHigh[i])).attr('y2',y(f_errHigh[i]));
  });
  svg.append('g').selectAll('circle').data(pts).join('circle')
    .attr('cx',d=>x(d[0])).attr('cy',d=>y(d[1])).attr('r',17).attr('fill','url(#ball-olive)');
  svg.append('text').attr('x',2220).attr('y',918).attr('font-size',56).attr('fill',ink).text('(f)');
  svg.append('text').attr('x',(L+R)/2).attr('y',1658).attr('text-anchor','middle')
    .attr('font-size',54).attr('textLength',753).attr('lengthAdjust','spacingAndGlyphs')
    .attr('fill',ink).text('Annealing Temperature (°C)');
  svg.append('text').attr('transform',`translate(2325,${(T+B)/2}) rotate(-90)`)
    .attr('text-anchor','middle').attr('font-size',58).attr('textLength',672)
    .attr('lengthAdjust','spacingAndGlyphs').attr('fill',ink).text('Breakdown field (MV/cm)');
})();
</script>
</body></html>
